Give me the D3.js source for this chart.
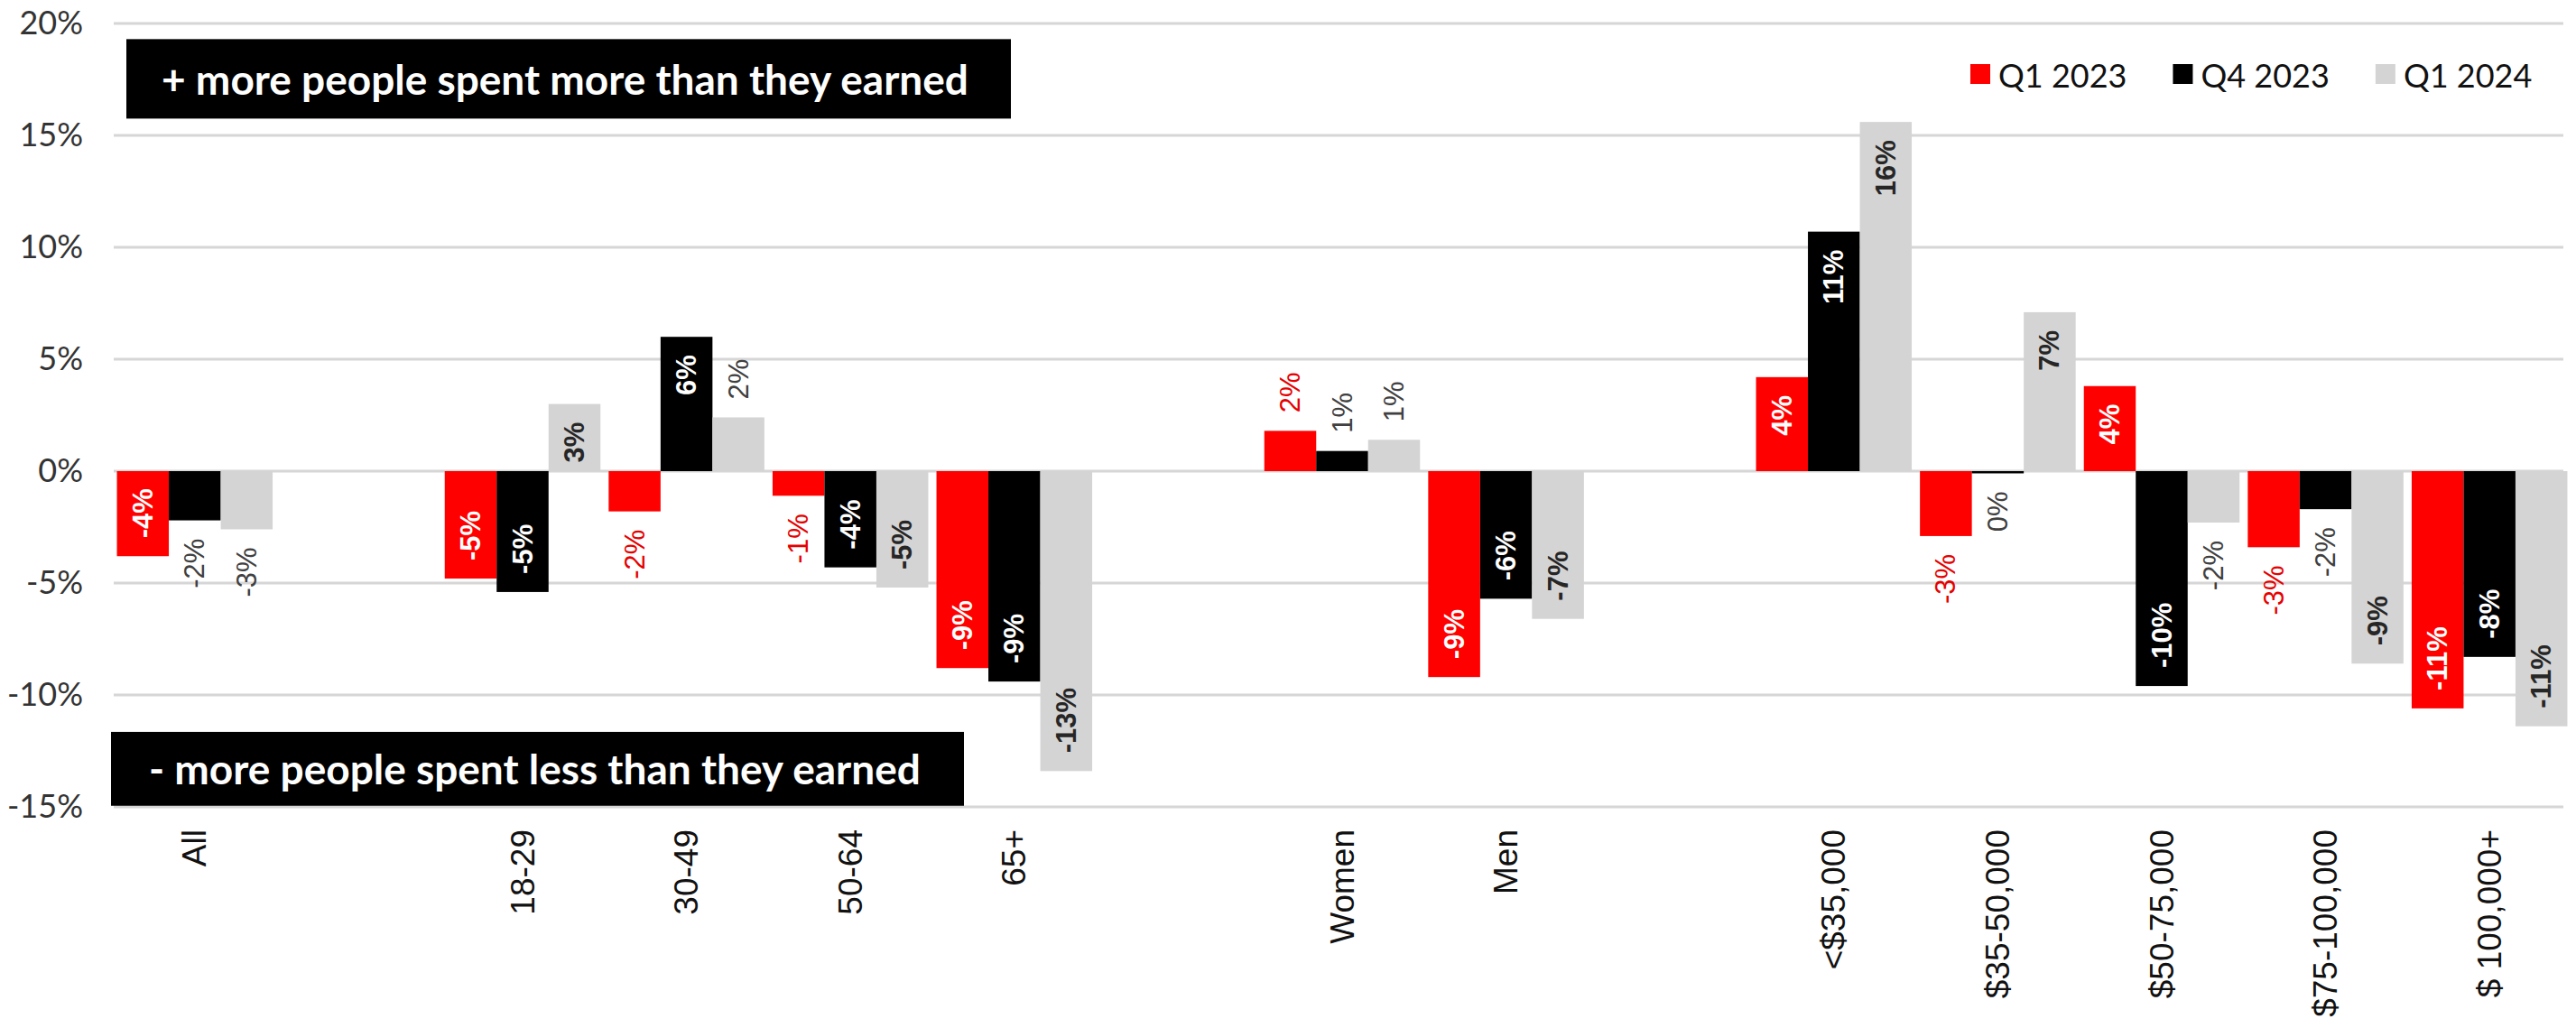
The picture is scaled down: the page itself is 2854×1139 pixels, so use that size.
<!DOCTYPE html>
<html>
<head>
<meta charset="utf-8">
<script src="https://cdn.jsdelivr.net/npm/d3@7"></script>
<style>
  body { margin: 0; background: #ffffff; }
</style>
</head>
<body>
<svg class="bar_chart"></svg>
<script>
// chart data (percent points)
const categories = ["All", "", "18-29", "30-49", "50-64", "65+", "", "Women", "Men", "",
                    "<$35,000", "$35-50,000", "$50-75,000", "$75-100,000", "$ 100,000+"];
const seriesNames = ["Q1 2023", "Q4 2023", "Q1 2024"];
const q1_2023 = [-3.8, null, -4.8, -1.8, -1.1, -8.8, null, 1.8, -9.2, null, 4.2, -2.9, 3.8, -3.4, -10.6];
const q4_2023 = [-2.2, null, -5.4, 6.0, -4.3, -9.4, null, 0.9, -5.7, null, 10.7, -0.1, -9.6, -1.7, -8.3];
const q1_2024 = [-2.6, null, 3.0, 2.4, -5.2, -13.4, null, 1.4, -6.6, null, 15.6, 7.1, -2.3, -8.6, -11.4];
const yTicks = [-15, -10, -5, 0, 5, 10, 15, 20];
const notePlus = "+ more people spent more than they earned";
const noteMinus = "- more people spent less than they earned";

const series = [q1_2023, q4_2023, q1_2024];

const config = {
    svg: {width: 2854, height: 1139},
    plot: {left: 125, right: 2849, top: 26, bottom: 894}
};
const colors = ["#ff0000", "#000000", "#d4d4d4"];
const outsideInk = ["#e60000", "#404040", "#404040"];
const insideInk = ["#ffffff", "#ffffff", "#262626"];
// bars shorter than this keep their label outside
const insideMin = [3.6, 2.9, 2.9];

let svg = d3.select('body').select('.bar_chart')
    .attr('width', config.svg.width)
    .attr('height', config.svg.height)
    .style('background-color', '#ffffff')
    .style('display', 'block');

let y = d3.scaleLinear()
    .domain([-15, 20])
    .range([config.plot.bottom, config.plot.top]);

let x0 = d3.scaleBand()
    .domain(d3.range(categories.length))
    .range([config.plot.left, config.plot.right])
    .paddingInner(0.05)
    .paddingOuter(0.025);

let x1 = d3.scaleBand()
    .domain(d3.range(series.length))
    .range([0, x0.bandwidth()]);

// gridlines
svg.append('g')
    .selectAll('line')
    .data(yTicks)
    .enter().append('line')
    .attr('x1', config.plot.left + 1)
    .attr('x2', config.plot.right - 9)
    .attr('y1', d => y(d))
    .attr('y2', d => y(d))
    .style('stroke', '#d6d6d6')
    .style('stroke-width', 3);

// y axis labels
let yAxis = svg.append('g')
    .attr('transform', 'translate(92,0)')
    .call(d3.axisLeft(y).tickValues(yTicks).tickSize(0).tickPadding(0)
        .tickFormat(d => d + '%'));
yAxis.select('.domain').remove();
yAxis.selectAll('text')
    .style('font-family', 'Lato, "Liberation Sans", sans-serif')
    .style('font-size', '36px')
    .style('fill', '#333333');

// annotation boxes
function note(x0px, x1px, vTop, vBottom, txt, pad) {
    let g = svg.append('g');
    g.append('rect')
        .attr('x', x0px)
        .attr('y', y(vTop))
        .attr('width', x1px - x0px)
        .attr('height', y(vBottom) - y(vTop))
        .style('fill', '#000000');
    g.append('text')
        .attr('x', x0px + pad)
        .attr('y', (y(vTop) + y(vBottom)) / 2)
        .attr('dominant-baseline', 'central')
        .style('font-family', 'Lato, "Open Sans", sans-serif')
        .style('font-weight', 'bold')
        .style('font-size', '46px')
        .style('fill', '#ffffff')
        .text(txt);
}
note(140, 1120, 19.3, 15.75, notePlus, 39);
note(123, 1068, -11.65, -14.95, noteMinus, 42);

// bars
series.forEach((vals, s) => {
    let g = svg.append('g');
    let pts = vals.map((v, i) => ({i: i, v: v})).filter(d => d.v !== null);

    g.selectAll('rect')
        .data(pts)
        .enter().append('rect')
        .attr('x', d => x0(d.i) + x1(s))
        .attr('width', x1.bandwidth())
        .attr('y', d => y(Math.max(0, d.v)))
        .attr('height', d => Math.abs(y(d.v) - y(0)))
        .style('fill', colors[s]);

    g.selectAll('text')
        .data(pts)
        .enter().append('text')
        .attr('transform', d => {
            let inside = Math.abs(d.v) >= insideMin[s];
            let end = y(d.v);
            let off = 20;
            let ty = d.v >= 0 ? (inside ? end + off : end - off) : (inside ? end - off : end + off);
            return 'translate(' + (x0(d.i) + x1(s) + x1.bandwidth() / 2) + ',' + ty + ') rotate(-90)';
        })
        .attr('text-anchor', d => {
            let inside = Math.abs(d.v) >= insideMin[s];
            return (d.v >= 0) === inside ? 'end' : 'start';
        })
        .attr('dominant-baseline', 'central')
        .style('font-family', '"Liberation Sans", Arial, sans-serif')
        .style('font-size', '31px')
        .style('font-weight', d => Math.abs(d.v) >= insideMin[s] ? 'bold' : 'normal')
        .style('fill', d => Math.abs(d.v) >= insideMin[s] ? insideInk[s] : outsideInk[s])
        .text(d => `${Math.round(d.v)}%`);
});

// category labels
svg.append('g')
    .selectAll('text')
    .data(categories.map((c, i) => ({c: c, i: i})).filter(d => d.c !== ''))
    .enter().append('text')
    .attr('transform', d => 'translate(' + (x0(d.i) + x0.bandwidth() / 2) + ',919) rotate(-90)')
    .attr('text-anchor', 'end')
    .attr('dominant-baseline', 'central')
    .style('font-family', '"Liberation Sans", Arial, sans-serif')
    .style('font-size', '37px')
    .style('fill', '#111111')
    .text(d => d.c);

// legend
let legend = svg.append('g').attr('class', 'legend');
let lx = 2183;
seriesNames.forEach((name, s) => {
    legend.append('rect')
        .attr('x', lx)
        .attr('y', 71)
        .attr('width', 22)
        .attr('height', 22)
        .style('fill', colors[s]);
    let t = legend.append('text')
        .attr('x', lx + 31)
        .attr('y', 97)
        .style('font-family', 'Lato, "Liberation Sans", sans-serif')
        .style('font-size', '36px')
        .style('fill', '#111111')
        .text(name);
    lx += 31 + t.node().getComputedTextLength() + 51;
});
</script>
</body>
</html>
